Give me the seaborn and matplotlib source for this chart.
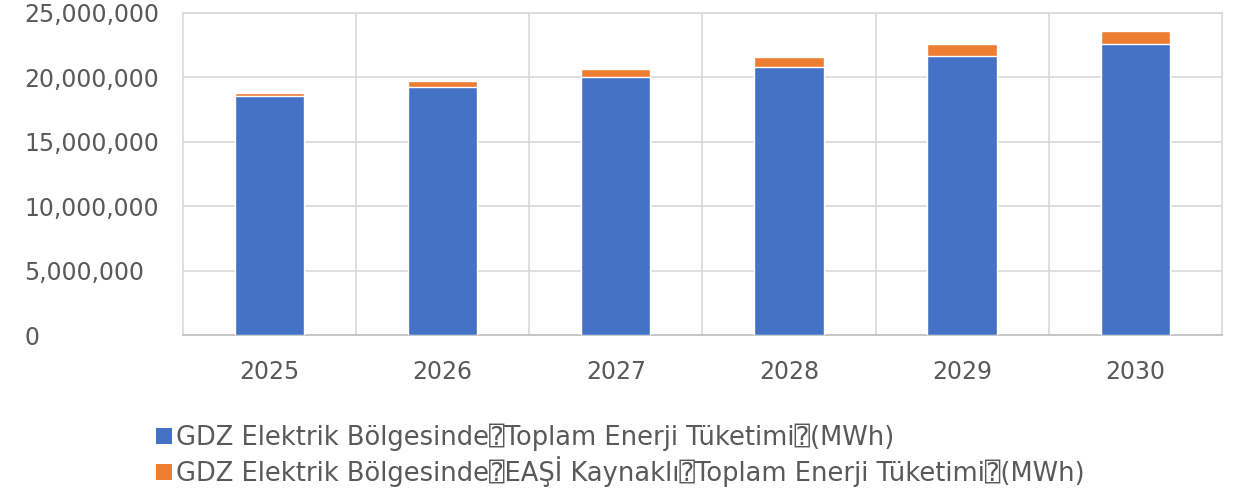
import matplotlib
matplotlib.use("Agg")
import matplotlib.pyplot as plt
import seaborn as sns
import pandas as pd
import numpy as np
from matplotlib.ticker import FuncFormatter, FixedLocator
from matplotlib.patches import Patch

years = ["2025", "2026", "2027", "2028", "2029", "2030"]
total_consumption = [18560000, 19230000, 20000000, 20830000, 21660000, 22620000]
easi_consumption = [210000, 490000, 650000, 780000, 960000, 960000]
series_labels = [
    "GDZ Elektrik Bölgesinde\u2370Toplam Enerji Tüketimi\u2370(MWh)",
    "GDZ Elektrik Bölgesinde\u2370EAŞİ Kaynaklı\u2370Toplam Enerji Tüketimi\u2370(MWh)",
]
y_ticks = [0, 5000000, 10000000, 15000000, 20000000, 25000000]

BLUE = "#4472C4"
ORANGE = "#ED7D31"
TEXT = "#595959"
GRID = "#D9D9D9"

sns.set_theme(style="white")
plt.rcParams["font.family"] = ["DejaVu Sans", "DejaVu Sans Mono"]

df = pd.DataFrame({
    "year": years,
    "blue": total_consumption,
    "stack": [a + b for a, b in zip(total_consumption, easi_consumption)],
})

fig = plt.figure(figsize=(12.48, 4.95), dpi=100)
ax = fig.add_axes([0.1466, 0.323, 0.979 - 0.1466, 0.974 - 0.323])

sns.barplot(data=df, x="year", y="stack", color=ORANGE, width=0.4,
            saturation=1, ax=ax, zorder=3)
sns.barplot(data=df, x="year", y="blue", color=BLUE, width=0.4,
            saturation=1, ax=ax, zorder=3)

ax.set_xlim(-0.5, len(years) - 0.5)
ax.set_ylim(0, 25000000)
ax.yaxis.set_major_locator(FixedLocator(y_ticks))
ax.yaxis.set_major_formatter(FuncFormatter(lambda v, p: f"{int(v):,}"))
ax.xaxis.set_minor_locator(FixedLocator(np.arange(0.5, len(years) - 0.5, 1.0)))

ax.grid(axis="y", which="major", color=GRID, linewidth=1.2, zorder=0)
ax.grid(axis="x", which="minor", color=GRID, linewidth=1.2, zorder=0)
ax.set_axisbelow(True)

for s in ["top", "right"]:
    ax.spines[s].set_visible(True)
    ax.spines[s].set_color(GRID)
ax.spines["left"].set_color(GRID)
ax.spines["bottom"].set_color("#BFBFBF")
for s in ax.spines.values():
    s.set_linewidth(1.2)

ax.set_xlabel("")
ax.set_ylabel("")
ax.tick_params(axis="both", which="both", length=0, colors=TEXT, labelsize=17)
ax.tick_params(axis="x", pad=18)
for lbl in ax.get_yticklabels():
    lbl.set_horizontalalignment("left")
ax.yaxis.set_tick_params(pad=114)

handles = [Patch(facecolor=BLUE, edgecolor="none"), Patch(facecolor=ORANGE, edgecolor="none")]
leg = fig.legend(handles, series_labels, loc="upper left",
                 bbox_to_anchor=(0.117, 0.165), frameon=False,
                 fontsize=18.5, labelcolor=TEXT, handlelength=0.6, handleheight=0.6,
                 handletextpad=0.15, labelspacing=0.2, borderaxespad=0)

fig.savefig("out.png", dpi=100, facecolor="white")
